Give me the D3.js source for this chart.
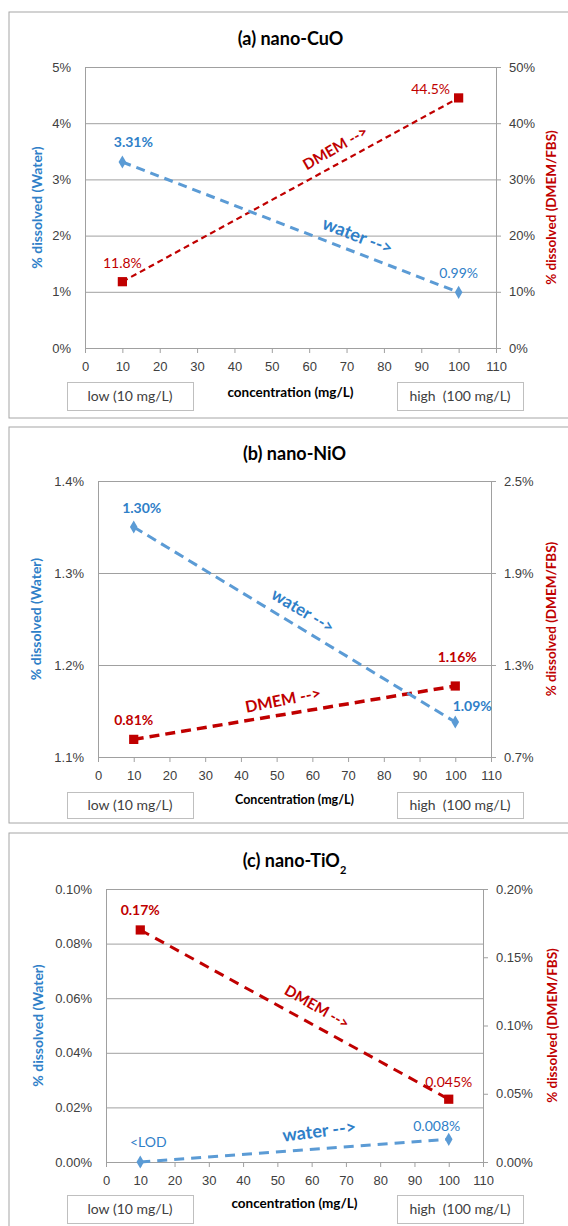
<!DOCTYPE html>
<html>
<head>
<meta charset="utf-8">
<script src="https://cdn.jsdelivr.net/npm/d3@7/dist/d3.min.js"></script>
<style>
body { margin: 0; background: #fff; }
svg { display: block; font-family: Lato, "Open Sans", sans-serif; }
</style>
</head>
<body>
<script>
// data
const concentrations = [10, 100];
const xTicks = [0, 10, 20, 30, 40, 50, 60, 70, 80, 90, 100, 110];

const cuoWater = [3.31, 0.99];
const cuoDmem = [11.8, 44.5];
const cuoWaterLabels = ["3.31%", "0.99%"];
const cuoDmemLabels = ["11.8%", "44.5%"];
const cuoLeftTicks = [0, 1, 2, 3, 4, 5];
const cuoRightTicks = [0, 10, 20, 30, 40, 50];

const nioWater = [1.35, 1.138];
const nioDmem = [0.815, 1.163];
const nioWaterLabels = ["1.30%", "1.09%"];
const nioDmemLabels = ["0.81%", "1.16%"];
const nioLeftTicks = [1.1, 1.2, 1.3, 1.4];
const nioRightTicks = [0.7, 1.3, 1.9, 2.5];

const tioWater = [0, 0.0083];
const tioDmem = [0.17, 0.046];
const tioWaterLabels = ["<LOD", "0.008%"];
const tioDmemLabels = ["0.17%", "0.045%"];
const tioLeftTicks = [0, 0.02, 0.04, 0.06, 0.08, 0.10];
const tioRightTicks = [0, 0.05, 0.10, 0.15, 0.20];

const blueLine = "#5b9bd5";
const blueText = "#2f80c8";
const red = "#c00000";
const gray = "#a0a0a0";

const svg = d3.select("body").append("svg")
  .attr("width", 568)
  .attr("height", 1226);

function drawPanel(p) {
  const g = svg.append("g");

  g.append("rect")
    .attr("x", 9).attr("y", p.frame[0])
    .attr("width", 600).attr("height", p.frame[1] - p.frame[0])
    .attr("fill", "none").attr("stroke", "#a6a6a6");

  const x = d3.scaleLinear().domain([0, 110]).range([p.left, p.right]);
  const yL = d3.scaleLinear().domain(p.leftDomain).range([p.bottom, p.top]);
  const yR = d3.scaleLinear().domain(p.rightDomain).range([p.bottom, p.top]);

  // left axis + gridlines
  const ax1 = g.append("g")
    .attr("transform", "translate(" + p.left + ",0)")
    .call(d3.axisLeft(yL).tickValues(p.leftTicks)
      .tickSize(-(p.right - p.left)).tickSizeOuter(0).tickPadding(14)
      .tickFormat(p.leftFmt));

  const ax2 = g.append("g")
    .attr("transform", "translate(" + p.right + ",0)")
    .call(d3.axisRight(yR).tickValues(p.rightTicks)
      .tickSize(5).tickSizeOuter(0).tickPadding(8)
      .tickFormat(p.rightFmt));

  const ax3 = g.append("g")
    .attr("transform", "translate(0," + p.bottom + ")")
    .call(d3.axisBottom(x).tickValues(xTicks)
      .tickSize(5).tickSizeOuter(0).tickPadding(9));

  [ax1, ax2, ax3].forEach(a => {
    a.selectAll("path, line").attr("stroke", gray);
    a.selectAll("text").attr("fill", "#404040").style("font-size", "13px");
  });

  // titles
  const t = g.append("text")
    .attr("x", (p.left + p.right) / 2).attr("y", p.titleY)
    .attr("text-anchor", "middle")
    .style("font-size", "18px").style("font-weight", "bold")
    .text(p.title);
  if (p.sub) {
    t.append("tspan").attr("baseline-shift", "sub").style("font-size", "11px").text(p.sub);
  }

  g.append("text")
    .attr("transform", "translate(" + p.leftTitleX + "," + (p.top + p.bottom) / 2 + ") rotate(-90)")
    .attr("text-anchor", "middle").attr("dy", "0.35em")
    .attr("fill", blueText)
    .style("font-size", "14px").style("font-weight", "bold")
    .text("% dissolved (Water)");

  g.append("text")
    .attr("transform", "translate(" + p.rightTitleX + "," + (p.top + p.bottom) / 2 + ") rotate(-90)")
    .attr("text-anchor", "middle").attr("dy", "0.35em")
    .attr("fill", red)
    .style("font-size", "13.5px").style("font-weight", "bold")
    .text("% dissolved (DMEM/FBS)");

  g.append("text")
    .attr("x", (p.left + p.right) / 2).attr("y", p.xTitleY)
    .attr("text-anchor", "middle")
    .style("font-size", p.xTitleSize).style("font-weight", "bold")
    .text(p.xTitle);

  // low / high boxes
  [["low (10 mg/L)", 67, 126], ["high\u00a0 (100 mg/L)", 397, 126]].forEach(b => {
    g.append("rect")
      .attr("x", b[1] + 0.5).attr("y", p.boxY + 0.5)
      .attr("width", b[2]).attr("height", p.boxH)
      .attr("fill", "none").attr("stroke", "#bfbfbf");
    g.append("text")
      .attr("x", b[1] + b[2] / 2).attr("y", p.boxY + p.boxH / 2)
      .attr("dy", "0.35em").attr("text-anchor", "middle")
      .attr("fill", "#404040").style("font-size", "14px")
      .text(b[0]);
  });

  // series
  const series = [
    {vals: p.dmem, labels: p.dmemLabels, y: yR, color: red, lw: p.dmemWidth, dash: p.dmemDash,
     sym: d3.symbolSquare, size: 85, lab: p.dmemLab, note: p.dmemNote, txt: "DMEM -->"},
    {vals: p.water, labels: p.waterLabels, y: yL, color: blueLine, lw: 3, dash: p.waterDash,
     sym: d3.symbolDiamond, size: 50, lab: p.waterLab, note: p.waterNote, txt: "water -->"}
  ];

  series.forEach(s => {
    const pts = concentrations.map((c, i) => ({x: c, y: s.vals[i]}));
    g.append("path")
      .datum(pts)
      .attr("fill", "none")
      .attr("stroke", s.color)
      .attr("stroke-width", s.lw)
      .attr("stroke-dasharray", s.dash)
      .attr("d", d3.line().x(d => x(d.x)).y(d => s.y(d.y)));

    g.selectAll(null).data(pts).enter().append("path")
      .attr("transform", d => "translate(" + x(d.x) + "," + s.y(d.y) + ")")
      .attr("d", d3.symbol(s.sym, s.size))
      .attr("fill", s.color);

    g.selectAll(null).data(pts).enter().append("text")
      .attr("x", (d, i) => x(d.x) + s.lab[i][0])
      .attr("y", (d, i) => s.y(d.y) + s.lab[i][1])
      .attr("dy", "0.35em").attr("text-anchor", "middle")
      .attr("fill", s.color === red ? red : blueText)
      .style("font-size", "14px")
      .style("font-weight", (d, i) => s.lab[i][2] ? "bold" : "normal")
      .text((d, i) => s.labels[i]);

    g.append("text")
      .attr("transform", "translate(" + x(s.note.x) + "," + s.y(s.note.y) + ") rotate(" + s.note.angle + ")")
      .attr("text-anchor", "middle").attr("dy", "0.35em")
      .attr("fill", s.color === red ? red : blueText)
      .style("font-size", s.note.size).style("font-weight", "bold")
      .text(s.txt);
  });
}

const pct0 = d => d3.format(".0f")(d) + "%";
const pct1 = d => d3.format(".1f")(d) + "%";
const pct2 = d => d3.format(".2f")(d) + "%";

drawPanel({
  frame: [12, 418], left: 85, right: 496, top: 67, bottom: 348,
  title: "(a) nano-CuO", titleY: 45, leftTitleX: 37, rightTitleX: 551,
  xTitle: "concentration (mg/L)", xTitleY: 397, xTitleSize: "13.5px",
  boxY: 382, boxH: 28,
  leftDomain: [0, 5], rightDomain: [0, 50],
  leftTicks: cuoLeftTicks, rightTicks: cuoRightTicks, leftFmt: pct0, rightFmt: pct0,
  water: cuoWater, dmem: cuoDmem, waterLabels: cuoWaterLabels, dmemLabels: cuoDmemLabels,
  waterLab: [[11, -20, true], [0, -19, false]],
  dmemLab: [[0, -19, false], [-28, -9, false]],
  waterNote: {x: 73, y: 2.0, angle: 21, size: "18px"},
  dmemNote: {x: 67, y: 35.6, angle: -30, size: "15px"},
  waterDash: "9,6", dmemDash: "6,4", dmemWidth: 2.2
});

drawPanel({
  frame: [427, 823], left: 98, right: 491, top: 481, bottom: 757,
  title: "(b) nano-NiO", titleY: 460, leftTitleX: 36, rightTitleX: 551,
  xTitle: "Concentration (mg/L)", xTitleY: 804, xTitleSize: "12.5px",
  boxY: 792, boxH: 26,
  leftDomain: [1.1, 1.4], rightDomain: [0.7, 2.5],
  leftTicks: nioLeftTicks, rightTicks: nioRightTicks, leftFmt: pct1, rightFmt: pct1,
  water: nioWater, dmem: nioDmem, waterLabels: nioWaterLabels, dmemLabels: nioDmemLabels,
  waterLab: [[8, -19, true], [17, -16, true]],
  dmemLab: [[0, -19, true], [2, -29, true]],
  waterNote: {x: 57.4, y: 1.259, angle: 31, size: "17px"},
  dmemNote: {x: 51.8, y: 1.072, angle: -11, size: "16px"},
  waterDash: "10,6", dmemDash: "10,6", dmemWidth: 3.5
});

drawPanel({
  frame: [833, 1232], left: 106, right: 483, top: 889, bottom: 1162,
  title: "(c) nano-TiO", sub: "2", titleY: 867, leftTitleX: 38, rightTitleX: 552,
  xTitle: "concentration (mg/L)", xTitleY: 1208, xTitleSize: "13.5px",
  boxY: 1195, boxH: 28,
  leftDomain: [0, 0.1], rightDomain: [0, 0.2],
  leftTicks: tioLeftTicks, rightTicks: tioRightTicks, leftFmt: pct2, rightFmt: pct2,
  water: tioWater, dmem: tioDmem, waterLabels: tioWaterLabels, dmemLabels: tioDmemLabels,
  waterLab: [[8, -20, false], [-12, -13, false]],
  dmemLab: [[0, -20, true], [0, -17, false]],
  waterNote: {x: 62.2, y: 0.01136, angle: -7, size: "18px"},
  dmemNote: {x: 61.6, y: 0.1136, angle: 30, size: "15px"},
  waterDash: "10,7", dmemDash: "10,7", dmemWidth: 3
});
</script>
</body>
</html>
